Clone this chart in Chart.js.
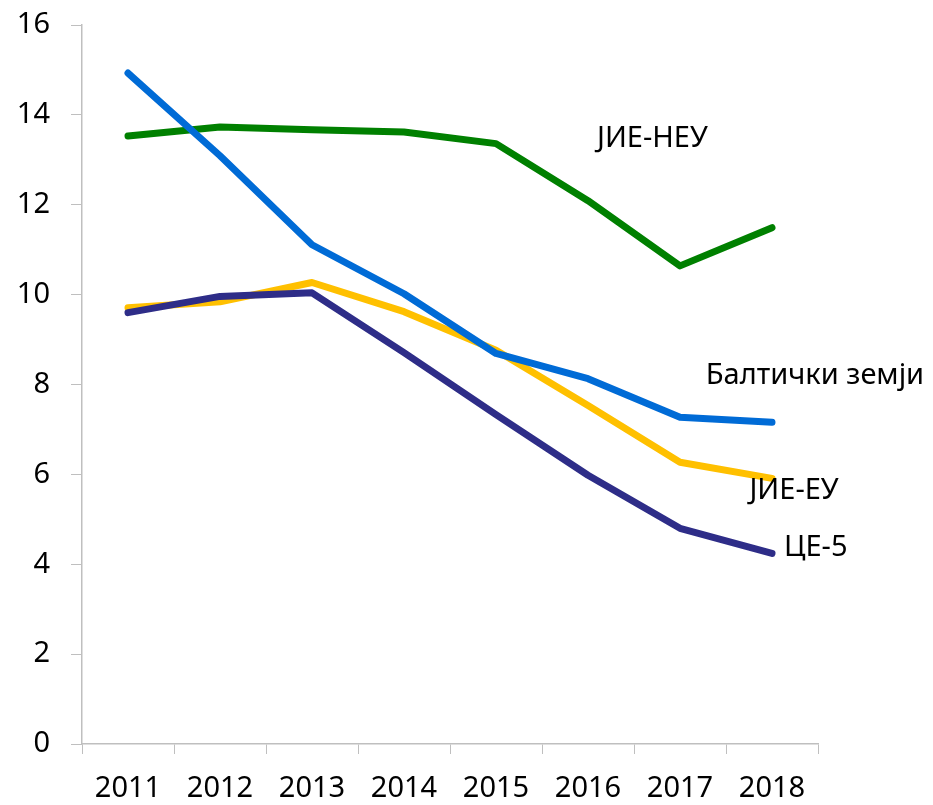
<!DOCTYPE html>
<html>
<head>
<meta charset="utf-8">
<script src="https://cdn.jsdelivr.net/npm/chart.js@4"></script>
<style>
  body { margin: 0; background: #fff; }
  #wrap { width: 933px; height: 805px; }
</style>
</head>
<body>
<div id="wrap"><canvas id="chart"></canvas></div>
<script>
const years = ['2011', '2012', '2013', '2014', '2015', '2016', '2017', '2018'];
const baltic = [14.93, 13.09, 11.11, 10.02, 8.69, 8.13, 7.27, 7.16];
const seeNonEu = [13.53, 13.73, 13.67, 13.62, 13.36, 12.09, 10.64, 11.49];
const seeEu = [9.71, 9.84, 10.27, 9.62, 8.76, 7.53, 6.27, 5.91];
const ce5 = [9.6, 9.96, 10.04, 8.71, 7.33, 5.98, 4.8, 4.24];

// text labels next to the lines: [text, x index, y value, align]
const lineLabels = [
  ['ЈИЕ-НЕУ', 5.7, 13.47, 'center'],
  ['Балтички земји', 6.28, 8.2, 'left'],
  ['ЈИЕ-ЕУ', 7.24, 5.64, 'center'],
  ['ЦЕ-5', 7.13, 4.36, 'left']
];

const font = '"Noto Sans", "Open Sans", sans-serif';

// draws the series names inside the plot
const labelPlugin = {
  id: 'lineLabels',
  afterDatasetsDraw(chart) {
    const c = chart.ctx;
    const xs = chart.scales.x, ys = chart.scales.y;
    c.save();
    c.font = '29px ' + font;
    c.fillStyle = '#000';
    c.textBaseline = 'middle';
    lineLabels.forEach(l => {
      const x0 = xs.getPixelForValue(Math.floor(l[1]));
      const x1 = xs.getPixelForValue(Math.floor(l[1]) + 1);
      const frac = l[1] - Math.floor(l[1]);
      c.textAlign = l[3];
      c.fillText(l[0], x0 + (x1 - x0) * frac, ys.getPixelForValue(l[2]));
    });
    c.restore();
  }
};

function ds(label, data, color) {
  return {
    label: label, data: data, borderColor: color, backgroundColor: color,
    borderWidth: 7, pointRadius: 0, tension: 0, fill: false,
    borderCapStyle: 'round', borderJoinStyle: 'round'
  };
}

new Chart(document.getElementById('chart'), {
  type: 'line',
  data: {
    labels: years,
    datasets: [
      ds('Балтички земји', baltic, '#006bd6'),
      ds('ЦЕ-5', ce5, '#2e2d88'),
      ds('ЈИЕ-ЕУ', seeEu, '#ffc000'),
      ds('ЈИЕ-НЕУ', seeNonEu, '#008000')
    ]
  },
  options: {
    responsive: true,
    maintainAspectRatio: false,
    animation: false,
    layout: { padding: { top: 25, right: 115, bottom: 0, left: 0 } },
    plugins: { legend: { display: false }, tooltip: { enabled: false } },
    scales: {
      x: {
        offset: true,
        grid: { offset: true, drawOnChartArea: false, tickLength: 10, color: '#bfbfbf' },
        border: { color: '#bfbfbf', width: 1.5 },
        ticks: { color: '#000', font: { family: font, size: 29 }, padding: 17, maxRotation: 0 },
        afterFit(scale) { scale.height = 61; scale.paddingLeft = 0; scale.paddingRight = 0; }
      },
      y: {
        min: 0, max: 16,
        grid: { drawOnChartArea: false, tickLength: 11, color: '#bfbfbf' },
        border: { color: '#bfbfbf', width: 1.5 },
        ticks: { stepSize: 2, color: '#000', font: { family: font, size: 29 }, padding: 21 },
        afterFit(scale) { scale.width = 82; scale.paddingTop = 0; scale.paddingBottom = 0; }
      }
    }
  },
  plugins: [labelPlugin]
});
</script>
</body>
</html>
